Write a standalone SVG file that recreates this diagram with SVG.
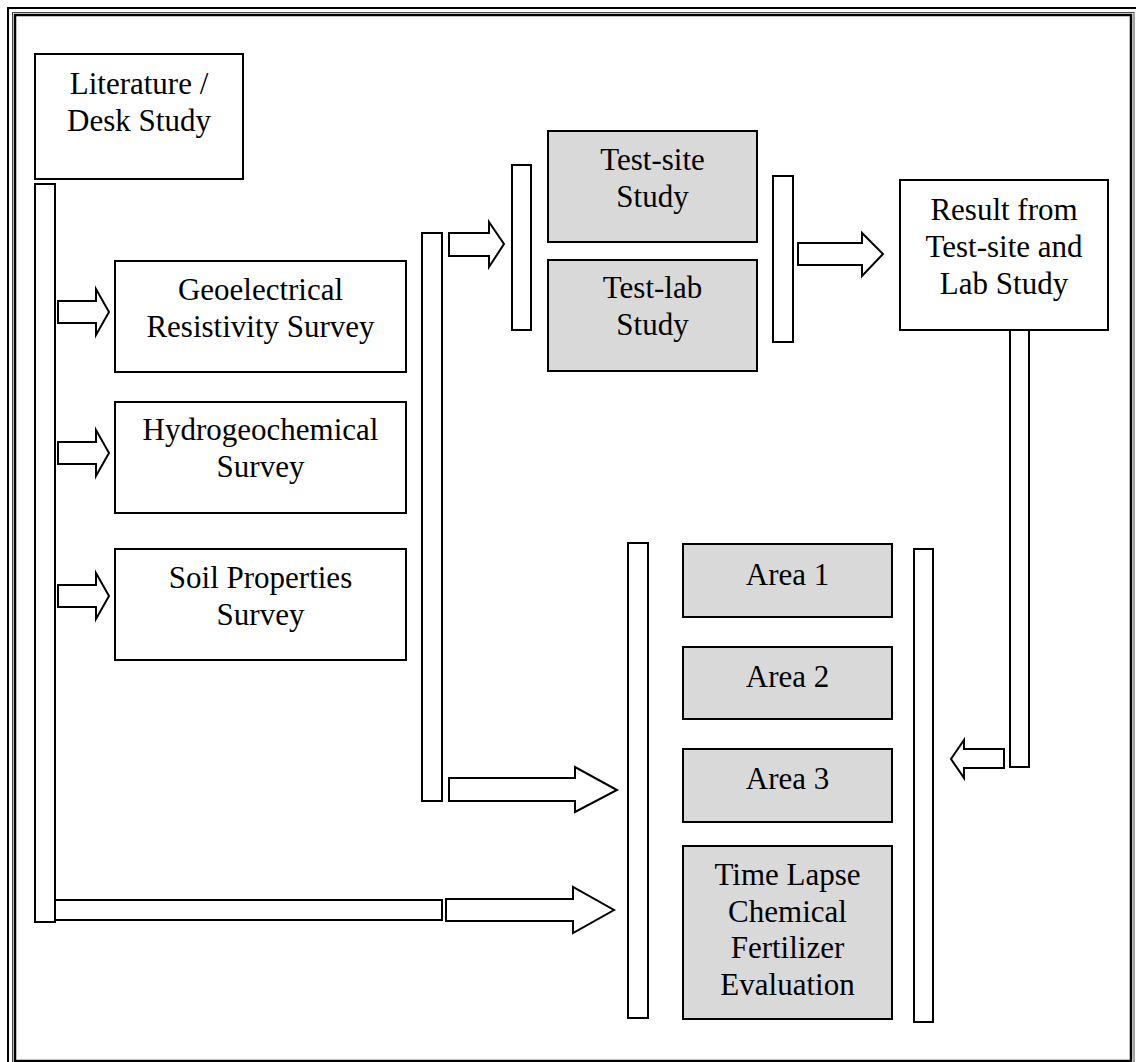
<svg xmlns="http://www.w3.org/2000/svg" width="1136" height="1062" viewBox="0 0 1136 1062">
<style>
.box{fill:#ffffff;stroke:#000;stroke-width:2}
.gbox{fill:#d9d9d9;stroke:#000;stroke-width:2}
.bar{fill:#ffffff;stroke:#000;stroke-width:2}
.arr{fill:#ffffff;stroke:#000;stroke-width:2;stroke-linejoin:miter}
text{font-family:"Liberation Serif","Times New Roman",serif;font-size:31px;fill:#000;text-anchor:middle}
</style>
<rect x="0" y="0" width="1136" height="1062" fill="#ffffff"/>
<g id="frame" fill="none">
<rect x="8" y="8" width="1140" height="1070" stroke="#000" stroke-width="2"/>
<rect x="12.5" y="12.5" width="1121.5" height="1060" stroke="#444" stroke-width="1"/>
<rect x="15" y="15" width="1116" height="1046" stroke="#000" stroke-width="2.5"/>
</g>
<g id="connectors">
<rect class="bar" x="35" y="184" width="20" height="738"/>
<rect class="bar" x="55" y="900" width="387" height="20"/>
<rect class="bar" x="422" y="233" width="20" height="568"/>
<rect class="bar" x="512" y="165" width="19" height="165"/>
<rect class="bar" x="773" y="176" width="20" height="166"/>
<rect class="bar" x="1010" y="330" width="19" height="437"/>
<rect class="bar" x="628" y="543" width="20" height="475"/>
<rect class="bar" x="914" y="549" width="19" height="473"/>
<polygon class="arr" points="58,301 96,301 96,289 109,312 96,335 96,323 58,323"/>
<polygon class="arr" points="58,442 96,442 96,430 109,453 96,476 96,464 58,464"/>
<polygon class="arr" points="58,585 96,585 96,573 109,596 96,619 96,607 58,607"/>
<polygon class="arr" points="449,233 489,233 489,222 504,244 489,267 489,256 449,256"/>
<polygon class="arr" points="449,778 575,778 575,767 617,790 575,812 575,801 449,801"/>
<polygon class="arr" points="446,899 573,899 573,887 614,910 573,933 573,921 446,921"/>
<polygon class="arr" points="798,243 862,243 862,233 883,254 862,276 862,265 798,265"/>
<polygon class="arr" points="1004,749 964,749 964,740 951,759 964,778 964,768 1004,768"/>
</g>
<g id="literature">
<rect class="box" x="35" y="54" width="208" height="125"/>
<text x="139" y="94">Literature /</text>
<text x="139" y="131">Desk Study</text>
</g>
<g id="geoelectrical">
<rect class="box" x="115" y="261" width="291" height="111"/>
<text x="260.5" y="300">Geoelectrical</text>
<text x="260.5" y="337">Resistivity Survey</text>
</g>
<g id="hydrogeochemical">
<rect class="box" x="115" y="402" width="291" height="111"/>
<text x="260.5" y="440">Hydrogeochemical</text>
<text x="260.5" y="477">Survey</text>
</g>
<g id="soil">
<rect class="box" x="115" y="549" width="291" height="111"/>
<text x="260.5" y="588">Soil Properties</text>
<text x="260.5" y="625">Survey</text>
</g>
<g id="testsite">
<rect class="gbox" x="548" y="131" width="209" height="111"/>
<text x="652.5" y="170">Test-site</text>
<text x="652.5" y="207">Study</text>
</g>
<g id="testlab">
<rect class="gbox" x="548" y="260" width="209" height="111"/>
<text x="652.5" y="298">Test-lab</text>
<text x="652.5" y="335">Study</text>
</g>
<g id="result">
<rect class="box" x="900" y="180" width="208" height="150"/>
<text x="1004" y="220">Result from</text>
<text x="1004" y="257">Test-site and</text>
<text x="1004" y="294">Lab Study</text>
</g>
<g id="area1">
<rect class="gbox" x="683" y="544" width="209" height="73"/>
<text x="787.5" y="585">Area 1</text>
</g>
<g id="area2">
<rect class="gbox" x="683" y="647" width="209" height="72"/>
<text x="787.5" y="687">Area 2</text>
</g>
<g id="area3">
<rect class="gbox" x="683" y="749" width="209" height="73"/>
<text x="787.5" y="789">Area 3</text>
</g>
<g id="timelapse">
<rect class="gbox" x="683" y="846" width="209" height="173"/>
<text x="787.5" y="885">Time Lapse</text>
<text x="787.5" y="922">Chemical</text>
<text x="787.5" y="958">Fertilizer</text>
<text x="787.5" y="995">Evaluation</text>
</g>
</svg>
